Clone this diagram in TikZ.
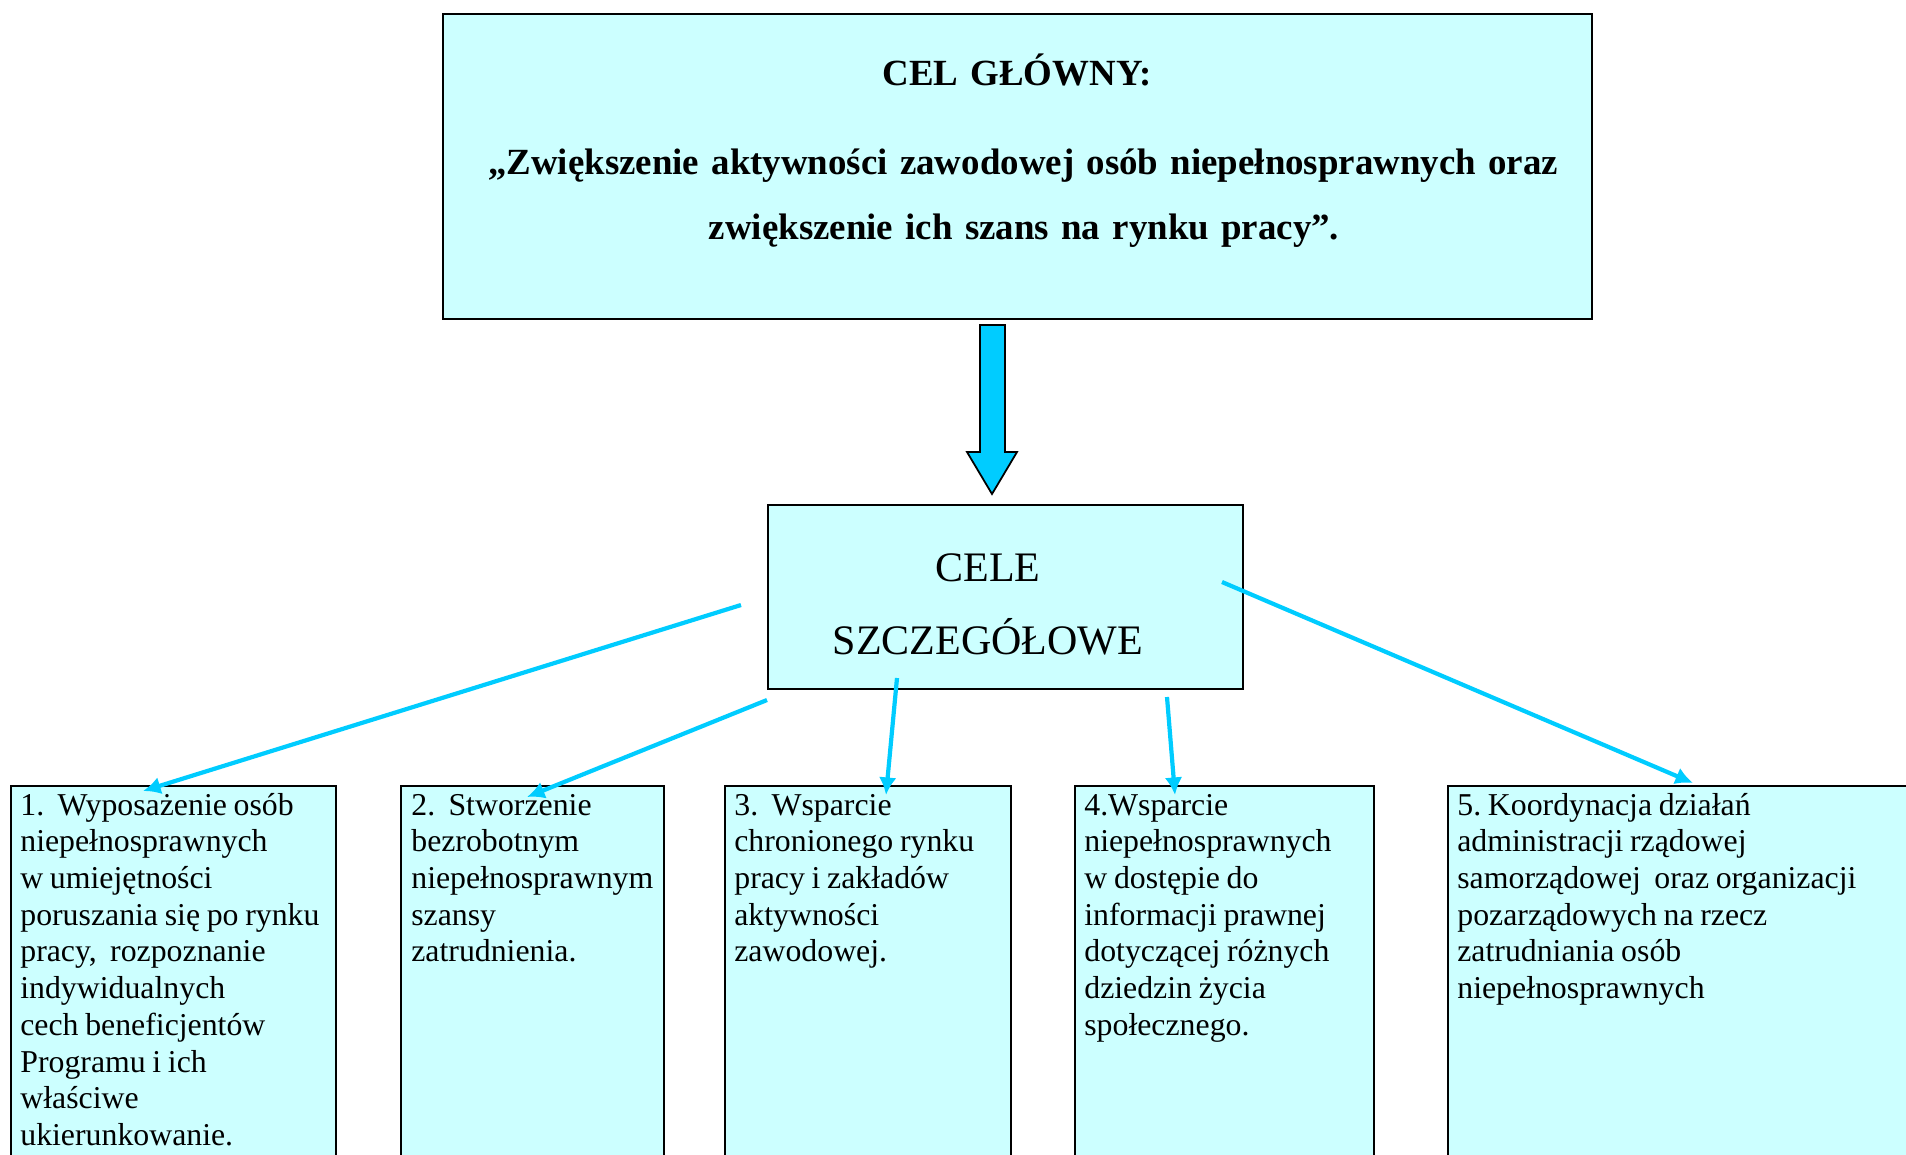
\documentclass[tikz,border=0pt]{standalone}
\usepackage{fontspec}
\setmainfont{Liberation Serif}
\usetikzlibrary{arrows.meta}

\definecolor{boxfill}{HTML}{CCFFFF}
\definecolor{arrowblue}{HTML}{00CCFF}

\tikzset{
  goal/.style={draw, line width=1.2pt, fill=boxfill, anchor=north west, inner sep=0pt},
  goaltext/.style={anchor=base west, align=left, text width=12cm, inner sep=0pt,
    font=\fontsize{18.1}{20.9}\selectfont,
    execute at begin node={\frenchspacing\spaceskip=0.21em\relax}},
  thinarrow/.style={draw=arrowblue, line width=2.4pt, -{Latex[length=10pt,width=10pt]}}
}

\begin{document}
\frenchspacing
\begin{tikzpicture}[x=0.02cm, y=-0.02cm]

\useasboundingbox (0,0) rectangle (1906,1154);
\clip (0,0) rectangle (1906,1154);

\node [goal, minimum width=22.98cm, minimum height=6.1cm] (main) at (442,13) {};
\node [align=center, text width=22cm, anchor=base, inner sep=0pt,
  font=\bfseries\fontsize{21}{37}\selectfont] (maintext) at (1017,85)
  {CEL GŁÓWNY:\\[13.7pt] \hspace*{7pt}„Zwiększenie aktywności zawodowej osób niepełnosprawnych oraz\\
  \hspace*{8pt}zwiększenie ich szans na rynku pracy”.};

% block arrow
\draw [line width=1pt, fill=arrowblue] (980,325) -- (1005,325) -- (1005,452) -- (1017,452)
  -- (992,494) -- (967,452) -- (980,452) -- cycle;

\node [goal, minimum width=9.5cm, minimum height=3.68cm] (cele) at (767,504) {};
\node [align=center, text width=9cm, anchor=base, inner sep=0pt,
  font=\fontsize{23.9}{42.1}\selectfont] (celetext) at (988,581) {CELE\\ SZCZEGÓŁOWE};

\node [goal, minimum width=6.5cm, minimum height=8cm] (g1) at (10,785) {};
\node [goal, minimum width=5.26cm, minimum height=8cm] (g2) at (400,785) {};
\node [goal, minimum width=5.72cm, minimum height=8cm] (g3) at (724,785) {};
\node [goal, minimum width=5.98cm, minimum height=8cm] (g4) at (1074,785) {};
\node [goal, minimum width=10cm, minimum height=8cm] (g5) at (1447,785) {};

\node [goaltext] (t1) at (20,815) {1.\ \ Wyposażenie osób\\ niepełnosprawnych\\ w umiejętności\\
  poruszania się po rynku\\ pracy,\ \ rozpoznanie\\ indywidualnych\\ cech beneficjentów\\
  Programu i ich\\ właściwe\\ ukierunkowanie.};
\node [goaltext] (t2) at (411,815) {2.\ \ Stworzenie\\ bezrobotnym\\ niepełnosprawnym\\ szansy\\ zatrudnienia.};
\node [goaltext] (t3) at (734,815) {3.\ \ Wsparcie\\ chronionego rynku\\ pracy i zakładów\\ aktywności\\ zawodowej.};
\node [goaltext] (t4) at (1084,815) {4.Wsparcie\\ niepełnosprawnych\\ w dostępie do\\ informacji prawnej\\
  dotyczącej różnych\\ dziedzin życia\\ społecznego.};
\node [goaltext] (t5) at (1457,815) {5. Koordynacja działań\\ administracji rządowej\\
  samorządowej\ \ oraz organizacji\\ pozarządowych na rzecz\\ zatrudniania osób\\ niepełnosprawnych};

% arrow ends
\coordinate (s1) at (741,605);
\coordinate (e1) at (143,791);
\coordinate (s2) at (767,700);
\coordinate (e2) at (527,797);
\coordinate (s3) at (897,678);
\coordinate (e3) at (886,795);
\coordinate (s4) at (1167,697);
\coordinate (e4) at (1175,795);
\coordinate (s5) at (1222,582);
\coordinate (e5) at (1693,783);

\draw [thinarrow] (s1) -- (e1);
\draw [thinarrow] (s2) -- (e2);
\draw [thinarrow] (s3) -- (e3);
\draw [thinarrow] (s4) -- (e4);
\draw [thinarrow] (s5) -- (e5);

\end{tikzpicture}
\end{document}
